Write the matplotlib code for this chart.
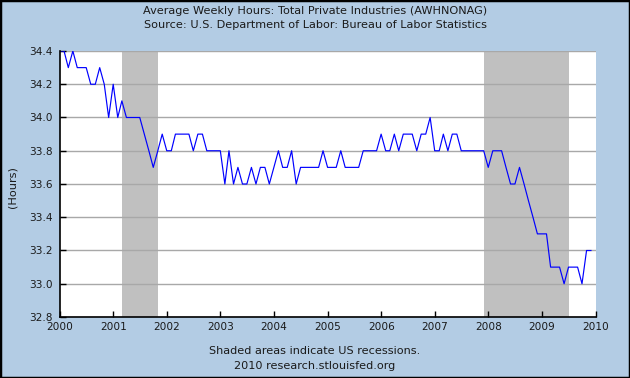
import pandas as pd
import matplotlib
matplotlib.use('Agg')
import matplotlib.pyplot as plt
from matplotlib.patches import Rectangle

# monthly values, Jan 2000 - Dec 2009
hours_2000 = [34.4, 34.4, 34.3, 34.4, 34.3, 34.3, 34.3, 34.2, 34.2, 34.3, 34.2, 34.0]
hours_2001 = [34.2, 34.0, 34.1, 34.0, 34.0, 34.0, 34.0, 33.9, 33.8, 33.7, 33.8, 33.9]
hours_2002 = [33.8, 33.8, 33.9, 33.9, 33.9, 33.9, 33.8, 33.9, 33.9, 33.8, 33.8, 33.8]
hours_2003 = [33.8, 33.6, 33.8, 33.6, 33.7, 33.6, 33.6, 33.7, 33.6, 33.7, 33.7, 33.6]
hours_2004 = [33.7, 33.8, 33.7, 33.7, 33.8, 33.6, 33.7, 33.7, 33.7, 33.7, 33.7, 33.8]
hours_2005 = [33.7, 33.7, 33.7, 33.8, 33.7, 33.7, 33.7, 33.7, 33.8, 33.8, 33.8, 33.8]
hours_2006 = [33.9, 33.8, 33.8, 33.9, 33.8, 33.9, 33.9, 33.9, 33.8, 33.9, 33.9, 34.0]
hours_2007 = [33.8, 33.8, 33.9, 33.8, 33.9, 33.9, 33.8, 33.8, 33.8, 33.8, 33.8, 33.8]
hours_2008 = [33.7, 33.8, 33.8, 33.8, 33.7, 33.6, 33.6, 33.7, 33.6, 33.5, 33.4, 33.3]
hours_2009 = [33.3, 33.3, 33.1, 33.1, 33.1, 33.0, 33.1, 33.1, 33.1, 33.0, 33.2, 33.2]

hours = (hours_2000 + hours_2001 + hours_2002 + hours_2003 + hours_2004 +
         hours_2005 + hours_2006 + hours_2007 + hours_2008 + hours_2009)
dates = pd.date_range('2000-01-01', periods=len(hours), freq='MS')

recession_starts = ['2001-03-01', '2007-12-01']
recession_ends = ['2001-11-01', '2009-07-01']

year_ticks = list(range(2000, 2011))
y_ticks = [32.8, 33.0, 33.2, 33.4, 33.6, 33.8, 34.0, 34.2, 34.4]

title = 'Average Weekly Hours: Total Private Industries (AWHNONAG)'
source = 'Source: U.S. Department of Labor: Bureau of Labor Statistics'
footer1 = 'Shaded areas indicate US recessions.'
footer2 = '2010 research.stlouisfed.org'

bg = '#B3CCE4'
txt = '#1a1a1a'

fig = plt.figure(figsize=(6.3, 3.78), dpi=100)
fig.patch.set_facecolor(bg)
ax = fig.add_axes([59.5 / 630, 1 - 317 / 378, 536 / 630, 266 / 378])
ax.set_facecolor('white')

# recession bands
for s, e in zip(recession_starts, recession_ends):
    ax.axvspan(pd.Timestamp(s), pd.Timestamp(e), color='#C0C0C0', lw=0, zorder=1)

ax.plot(dates, hours, color='#0000FF', lw=0.85, zorder=3)

ax.set_xlim(pd.Timestamp('2000-01-01'), pd.Timestamp('2010-01-01'))
ax.set_ylim(32.8, 34.4)
ax.set_yticks(y_ticks)
ax.set_yticklabels(['%.1f' % v for v in y_ticks])
ax.set_xticks([pd.Timestamp('%d-01-01' % y) for y in year_ticks])
ax.set_xticklabels([str(y) for y in year_ticks])

ax.yaxis.grid(True, color='#A8A8A8', lw=1.0, zorder=2)
ax.set_axisbelow(False)
for side in ['top', 'right']:
    ax.spines[side].set_visible(False)
for side in ['left', 'bottom']:
    ax.spines[side].set_color('black')
    ax.spines[side].set_linewidth(1.2)
    ax.spines[side].set_zorder(4)

ax.tick_params(axis='both', direction='in', length=4, width=1, color='black',
               labelsize=7.6, labelcolor=txt)
ax.tick_params(axis='y', pad=5)
ax.tick_params(axis='x', pad=3.5)

fs = 8.1
fig.text(0.5, 1 - 11.5 / 378, title, ha='center', va='center', fontsize=fs, color=txt)
fig.text(0.5, 1 - 25.5 / 378, source, ha='center', va='center', fontsize=fs, color=txt)
fig.text(0.5, 1 - 351 / 378, footer1, ha='center', va='center', fontsize=fs, color=txt)
fig.text(0.5, 1 - 366 / 378, footer2, ha='center', va='center', fontsize=fs, color=txt)
fig.text(13 / 630, 1 - 187 / 378, '(Hours)', rotation=90, ha='center', va='center',
         fontsize=fs, color=txt)

fig.patches.append(Rectangle((0, 0), 1, 1, transform=fig.transFigure, fill=False,
                             ec='black', lw=2.5))

fig.savefig('out.png', dpi=100, facecolor=bg)
